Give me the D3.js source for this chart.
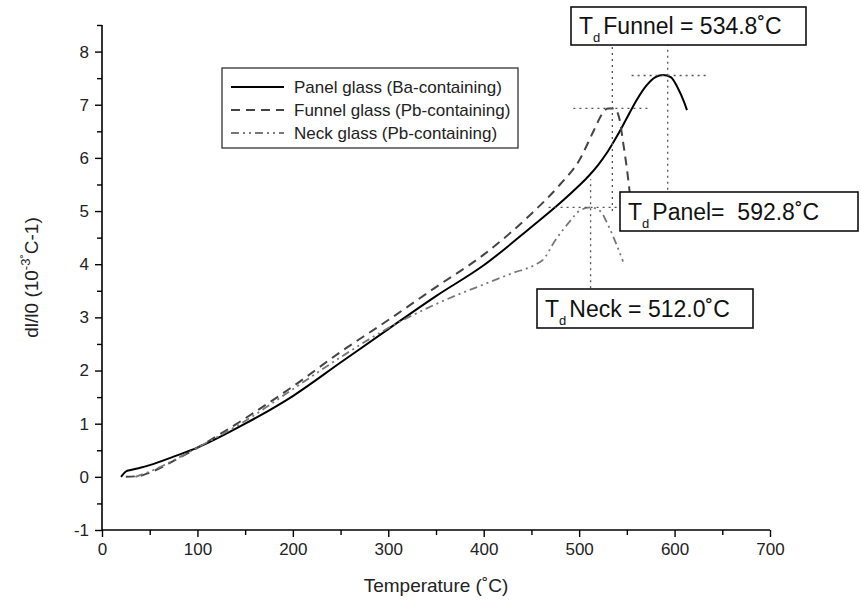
<!DOCTYPE html>
<html>
<head>
<meta charset="utf-8">
<script src="https://cdn.jsdelivr.net/npm/d3@7"></script>
<style>
  body { margin: 0; background: #fff; }
  svg { font-family: 'Liberation Sans', Arial, sans-serif; }
</style>
</head>
<body>
<div id="chart"></div>
<script>
// temperature (C) and dl/l0 values
const panelT = [20, 25, 30, 40, 50, 75, 100, 150, 200, 250, 300, 350, 400, 450, 480, 500, 510, 520, 530, 540, 550, 560, 570, 580, 588, 596, 603, 610, 613];
const panelV = [0.0, 0.1, 0.13, 0.17, 0.22, 0.38, 0.55, 1.0, 1.52, 2.15, 2.78, 3.4, 3.98, 4.7, 5.15, 5.48, 5.66, 5.87, 6.12, 6.42, 6.75, 7.08, 7.35, 7.52, 7.56, 7.52, 7.33, 7.05, 6.9];

const funnelT = [25, 40, 50, 75, 100, 150, 200, 250, 300, 350, 400, 450, 480, 500, 515, 525, 530, 537, 542, 546, 550, 553];
const funnelV = [0.0, 0.02, 0.08, 0.3, 0.55, 1.1, 1.7, 2.35, 2.95, 3.57, 4.18, 4.95, 5.5, 5.95, 6.5, 6.85, 6.93, 6.93, 6.75, 6.3, 5.8, 5.35];

const neckT = [35, 50, 100, 150, 200, 250, 300, 350, 400, 430, 455, 462, 475, 490, 500, 512, 522, 530, 538, 546];
const neckV = [0.0, 0.1, 0.55, 1.05, 1.65, 2.25, 2.8, 3.25, 3.62, 3.83, 4.0, 4.08, 4.45, 4.8, 5.0, 5.07, 5.0, 4.75, 4.42, 4.05];

const legendNames = ['Panel glass (Ba-containing)', 'Funnel glass (Pb-containing)', 'Neck glass (Pb-containing)'];

// decomposition temperatures and peak heights
const tdNames = ['Panel', 'Funnel', 'Neck'];
const tdTemps = [592.8, 534.8, 512.0];
const tdPeaks = [7.55, 6.93, 5.07];
const tdLabels = ['Panel=  592.8˚C', 'Funnel = 534.8˚C', 'Neck = 512.0˚C'];

const xTicks = [0, 100, 200, 300, 400, 500, 600, 700];
const yTicks = [-1, 0, 1, 2, 3, 4, 5, 6, 7, 8];

const width = 861, height = 603;
const margin = { left: 102, right: 91, top: 25, bottom: 73 };

const svg = d3.select('#chart').append('svg').attr('width', width).attr('height', height);

const x = d3.scaleLinear().domain([0, 700]).range([margin.left, width - margin.right]);
const y = d3.scaleLinear().domain([-1, 8.5]).range([height - margin.bottom, margin.top]);

// hyphen instead of unicode minus, like the original
const fmt = (d) => String(d);

// axes - major + minor ticks
svg.append('g').attr('transform', `translate(0,${y(-1)})`)
  .call(d3.axisBottom(x).tickValues(xTicks).tickSize(7).tickPadding(6).tickFormat(fmt));
svg.append('g').attr('transform', `translate(0,${y(-1)})`)
  .call(d3.axisBottom(x).tickValues(d3.range(50, 700, 100)).tickSize(5).tickFormat(''));
svg.append('g').attr('transform', `translate(${x(0)},0)`)
  .call(d3.axisLeft(y).tickValues(yTicks).tickSize(7).tickPadding(6).tickFormat(fmt));
svg.append('g').attr('transform', `translate(${x(0)},0)`)
  .call(d3.axisLeft(y).tickValues(d3.range(-0.5, 8.6, 1)).tickSize(5).tickFormat(''));

svg.selectAll('.tick line').attr('stroke', '#000').attr('stroke-width', 1.4);
svg.selectAll('.tick text').attr('font-size', 17).attr('fill', '#222');
// plain axis lines instead of d3 end ticks
svg.selectAll('.domain').remove();
svg.append('line').attr('x1', x(0)).attr('x2', x(700)).attr('y1', y(-1)).attr('y2', y(-1)).attr('stroke', '#000').attr('stroke-width', 1.6);
svg.append('line').attr('x1', x(0)).attr('x2', x(0)).attr('y1', y(-1)).attr('y2', y(8.5)).attr('stroke', '#000').attr('stroke-width', 1.6);

// axis titles
svg.append('text').attr('x', x(350)).attr('y', height - 11).attr('text-anchor', 'middle')
  .attr('font-size', 19).attr('fill', '#222').text('Temperature (˚C)');
const yt = svg.append('text').attr('transform', `translate(38,${y(3.75)}) rotate(-90)`)
  .attr('text-anchor', 'middle').attr('font-size', 19).attr('fill', '#222');
yt.append('tspan').text('dl/l0 (10');
yt.append('tspan').attr('font-size', 13).attr('dy', -8).text('-3˚');
yt.append('tspan').attr('dy', 8).text('C-1)');

// curves
const line = d3.line().x((d) => x(d[0])).y((d) => y(d[1])).curve(d3.curveMonotoneX);
const series = [
  { t: panelT, v: panelV, stroke: '#000', width: 2, dash: null },
  { t: funnelT, v: funnelV, stroke: '#444', width: 2, dash: '9,6' },
  { t: neckT, v: neckV, stroke: '#777', width: 1.8, dash: '8,4,2,4,2,4' },
];

svg.selectAll('path.curve').data(series).enter().append('path')
  .attr('class', 'curve')
  .attr('d', (s) => line(s.t.map((t, i) => [t, s.v[i]])))
  .attr('fill', 'none')
  .attr('stroke', (s) => s.stroke)
  .attr('stroke-width', (s) => s.width)
  .attr('stroke-dasharray', (s) => s.dash);

// dotted crosshairs at each peak (h = temperature span, v = value span)
const cross = [
  { h: [555, 635], v: [5.4, 8.35] },
  { h: [494, 572], v: [5.0, 8.45] },
  { h: [468, 545], v: [3.55, 5.6] },
];
const dotted = svg.append('g').attr('stroke', '#555').attr('stroke-width', 1.3).attr('stroke-dasharray', '2,4');
tdTemps.forEach((t, i) => {
  dotted.append('line').attr('x1', x(cross[i].h[0])).attr('x2', x(cross[i].h[1]))
    .attr('y1', y(tdPeaks[i])).attr('y2', y(tdPeaks[i]));
  dotted.append('line').attr('x1', x(t)).attr('x2', x(t))
    .attr('y1', y(cross[i].v[0])).attr('y2', y(cross[i].v[1]));
});

// annotation boxes
const boxes = [
  { x: 620, y: 192, w: 238, h: 39 },
  { x: 571, y: 7, w: 235, h: 38 },
  { x: 537, y: 289, w: 216, h: 39 },
];
boxes.forEach((b, i) => {
  svg.append('rect').attr('x', b.x).attr('y', b.y).attr('width', b.w).attr('height', b.h)
    .attr('fill', '#fff').attr('stroke', '#111').attr('stroke-width', 1.6);
  const tx = svg.append('text').attr('x', b.x + 8).attr('y', b.y + b.h / 2 + 8)
    .attr('font-size', 23).attr('fill', '#111').attr('xml:space', 'preserve');
  tx.append('tspan').text('T');
  tx.append('tspan').attr('font-size', 13).attr('dy', 8).text('d');
  tx.append('tspan').attr('dy', -8).attr('dx', 3).text(tdLabels[i]);
});

// legend
const lg = svg.append('g').attr('transform', 'translate(222,68)');
lg.append('rect').attr('width', 296).attr('height', 80).attr('fill', '#fff').attr('stroke', '#333').attr('stroke-width', 1.3);
legendNames.forEach((name, i) => {
  const s = series[i];
  const yy = 19 + i * 23;
  lg.append('line').attr('x1', 9).attr('x2', 62).attr('y1', yy).attr('y2', yy)
    .attr('stroke', s.stroke).attr('stroke-width', s.width).attr('stroke-dasharray', s.dash);
  lg.append('text').attr('x', 72).attr('y', yy + 6).attr('font-size', 17).attr('fill', '#222').text(name);
});
</script>
</body>
</html>
